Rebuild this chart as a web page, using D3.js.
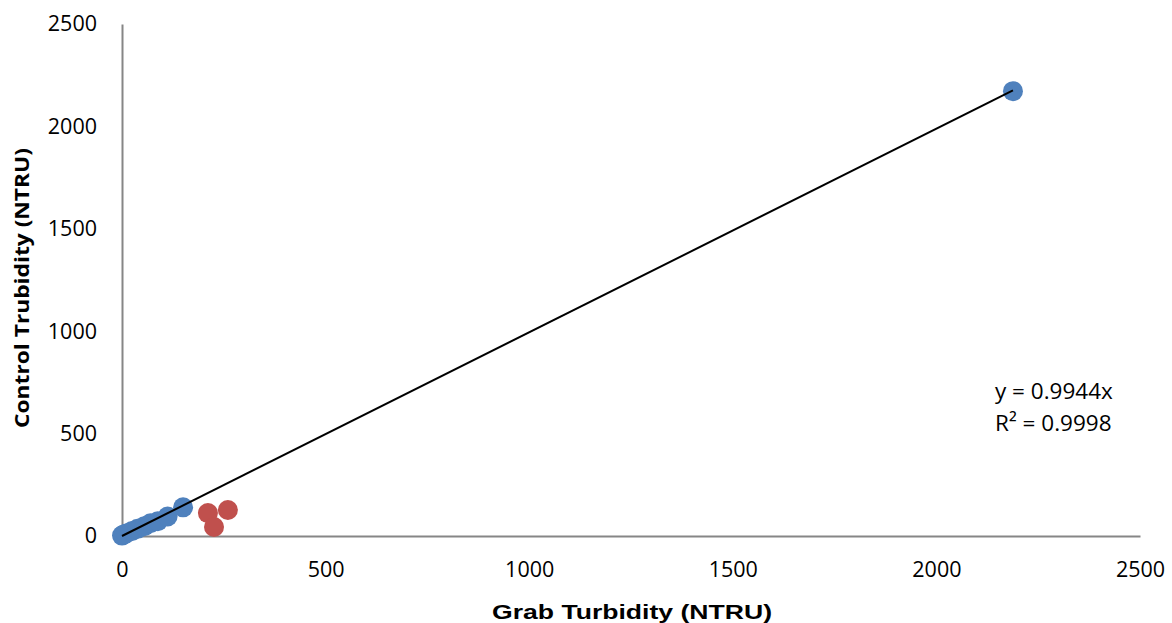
<!DOCTYPE html>
<html>
<head>
<meta charset="utf-8">
<script src="https://cdn.jsdelivr.net/npm/d3@7"></script>
<style>
  body { margin: 0; background: #ffffff; }
</style>
</head>
<body>
<div id="vis"></div>
<script>
// data
var grabBlue    = [0, 3, 10, 25, 38, 55, 70, 88, 112, 150, 2188];
var controlBlue = [2, 6, 12, 25, 35, 48, 62, 72, 95, 140, 2172];
var grabRed     = [211, 260, 226];
var controlRed  = [112, 127, 44];
var xTicks = [0, 500, 1000, 1500, 2000, 2500];
var yTicks = [0, 500, 1000, 1500, 2000, 2500];
var slope = 0.9944;
var rSquared = 0.9998;

var width = 1172, height = 623;

var svg = d3.select("#vis")
  .append("svg")
    .attr("width", width)
    .attr("height", height);

var x = d3.scaleLinear().domain([0, 2500]).range([122, 1140]);
var y = d3.scaleLinear().domain([0, 2500]).range([536, 24]);

// axes, no tick marks, just the grey lines
var xAxis = svg.append("g")
    .attr("transform", "translate(0," + y(0) + ")")
    .call(d3.axisBottom(x).tickValues(xTicks).tickSize(0).tickPadding(26).tickFormat(d3.format("d")));
var yAxis = svg.append("g")
    .attr("transform", "translate(" + x(0) + ",0)")
    .call(d3.axisLeft(y).tickValues(yTicks).tickSize(0).tickPadding(25).tickFormat(d3.format("d")));

[xAxis, yAxis].forEach(function (g) {
  g.select(".domain").attr("stroke", "#868686").attr("stroke-width", 2);
  g.selectAll("text")
    .style("font-family", "'Open Sans', sans-serif")
    .style("font-size", "21.5px")
    .attr("fill", "#000");
});

var xMax = d3.max(grabBlue);
var blue = grabBlue.map(function (d, i) { return [d, controlBlue[i]]; });
var red = grabRed.map(function (d, i) { return [d, controlRed[i]]; });

svg.append("g")
  .selectAll("circle")
  .data(blue)
  .enter()
  .append("circle")
    .attr("cx", d => x(d[0]))
    .attr("cy", d => y(d[1]))
    .attr("r", 10)
    .attr("fill", "#4f81bd");

svg.append("g")
  .selectAll("circle")
  .data(red)
  .enter()
  .append("circle")
    .attr("cx", d => x(d[0]))
    .attr("cy", d => y(d[1]))
    .attr("r", 10)
    .attr("fill", "#c0504d");

// trendline through origin, on top of the markers
svg.append("line")
    .attr("x1", x(0)).attr("y1", y(0))
    .attr("x2", x(xMax)).attr("y2", y(slope * xMax))
    .attr("stroke", "#000")
    .attr("stroke-width", 2);

// equation label
var eq = svg.append("g")
    .style("font-family", "'Open Sans', sans-serif")
    .style("font-size", "22.5px");
eq.append("text").attr("x", 995).attr("y", 399).text("y = " + slope + "x");
eq.append("text").attr("x", 995).attr("y", 431).text("R\u00b2 = " + rSquared);

// axis titles
svg.append("text")
    .attr("x", 632)
    .attr("y", 619)
    .attr("text-anchor", "middle")
    .style("font-family", "'Liberation Sans', Arial, sans-serif")
    .style("font-weight", "bold")
    .style("font-size", "21px")
    .attr("textLength", 280)
    .attr("lengthAdjust", "spacingAndGlyphs")
    .text("Grab Turbidity (NTRU)");

svg.append("text")
    .attr("transform", "translate(29,288) rotate(-90)")
    .attr("text-anchor", "middle")
    .style("font-family", "'Open Sans', sans-serif")
    .style("font-weight", "bold")
    .style("font-size", "20px")
    .attr("textLength", 280)
    .attr("lengthAdjust", "spacingAndGlyphs")
    .text("Control Trubidity (NTRU)");
</script>
</body>
</html>
